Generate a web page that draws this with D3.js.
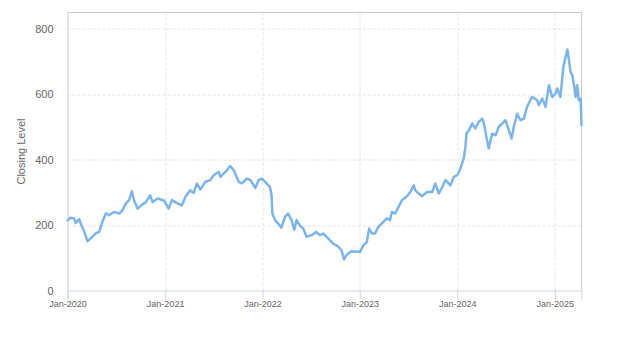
<!DOCTYPE html>
<html>
<head>
<meta charset="utf-8">
<script src="https://cdn.jsdelivr.net/npm/d3@7"></script>
<style>
  html, body { margin: 0; padding: 0; background: #fff; }
  svg { display: block; font-family: "Liberation Sans", Arial, sans-serif; }
</style>
</head>
<body>
<svg id="chart" width="623" height="350"></svg>
<script>
// Closing level series
const dates = [
  "2020-01-01","2020-01-11","2020-01-26","2020-02-01","2020-02-14","2020-02-22","2020-03-04","2020-03-16",
  "2020-03-29","2020-04-17","2020-04-29","2020-05-11","2020-05-24","2020-06-05","2020-06-24","2020-07-13",
  "2020-07-25","2020-08-07","2020-08-19","2020-08-29","2020-09-07","2020-09-20","2020-10-08","2020-10-21",
  "2020-11-06","2020-11-15","2020-12-04","2020-12-29","2021-01-14","2021-01-27","2021-02-14","2021-03-05",
  "2021-03-18","2021-04-05","2021-04-18","2021-04-30","2021-05-13","2021-06-01","2021-06-19","2021-07-02",
  "2021-07-21","2021-07-27","2021-08-15","2021-09-02","2021-09-15","2021-10-04","2021-10-16","2021-11-04",
  "2021-11-17","2021-12-05","2021-12-17","2021-12-30","2022-01-11","2022-01-29","2022-02-04","2022-02-07",
  "2022-02-17","2022-03-01","2022-03-13","2022-03-26","2022-04-07","2022-04-20","2022-04-30","2022-05-09",
  "2022-05-21","2022-06-03","2022-06-15","2022-07-04","2022-07-22","2022-08-04","2022-08-17","2022-09-04",
  "2022-09-23","2022-10-11","2022-10-24","2022-11-03","2022-11-11","2022-11-30","2022-12-19","2023-01-02",
  "2023-01-14","2023-01-27","2023-02-05","2023-02-15","2023-02-27","2023-03-11","2023-03-24","2023-04-12",
  "2023-04-24","2023-05-01","2023-05-13","2023-05-26","2023-06-08","2023-06-27","2023-07-09","2023-07-22",
  "2023-07-28","2023-08-10","2023-08-22","2023-09-10","2023-09-29","2023-10-11","2023-10-24","2023-11-06",
  "2023-11-18","2023-12-07","2023-12-19","2024-01-01","2024-01-13","2024-01-26","2024-02-01","2024-02-05",
  "2024-02-14","2024-02-26","2024-03-09","2024-03-22","2024-04-04","2024-04-10","2024-04-23","2024-04-28",
  "2024-05-11","2024-05-24","2024-06-05","2024-06-18","2024-06-30","2024-07-13","2024-07-23","2024-07-31",
  "2024-08-13","2024-08-25","2024-09-07","2024-09-19","2024-10-01","2024-10-08","2024-10-27","2024-11-02",
  "2024-11-15","2024-11-27","2024-12-10","2024-12-22","2025-01-04","2025-01-10","2025-01-22","2025-02-02",
  "2025-02-10","2025-02-17","2025-02-23","2025-03-01","2025-03-08","2025-03-14","2025-03-20","2025-03-26",
  "2025-04-01","2025-04-08","2025-04-11"
];
const closes = [
  214,222,220,206,218,199,180,150,
  160,175,179,210,236,230,240,235,
  245,266,276,303,274,250,263,270,
  291,270,281,274,250,276,267,260,
  286,306,298,327,308,332,337,352,
  362,347,362,380,367,332,327,342,
  337,313,337,342,332,316,291,235,
  215,204,192,225,235,215,186,215,
  199,189,164,169,179,169,174,159,
  143,135,123,95,108,120,118,118,
  138,148,189,174,174,194,204,220,
  215,240,235,255,276,288,301,321,
  306,296,288,301,301,327,296,316,
  337,321,347,352,372,405,440,480,
  489,510,495,515,525,510,454,434,
  479,474,500,510,520,489,464,500,
  540,520,525,561,581,591,581,566,
  586,561,627,591,601,617,591,683,
  713,736,703,667,657,627,591,627,
  581,586,505
];
const yTicks = [0, 200, 400, 600, 800];
const xTickYears = [2020, 2021, 2022, 2023, 2024, 2025];
const yTitle = "Closing Level";

const parse = d3.timeParse("%Y-%m-%d");
const data = dates.map((d, i) => ({ date: parse(d), value: closes[i] }));

const margin = { left: 67.5, top: 12.5, right: 623 - 581.5, bottom: 350 - 290.5 };
const width = 623 - margin.left - margin.right;
const height = 350 - margin.top - margin.bottom;

const svg = d3.select("#chart");
const g = svg.append("g").attr("transform", `translate(${margin.left},${margin.top})`);

const x = d3.scaleTime()
  .domain(d3.extent(data, d => d.date))
  .range([0, width]);
const y = d3.scaleLinear()
  .domain([0, 849])
  .range([height, 0]);

const xTicks = xTickYears.map(yr => new Date(yr, 0, 1));

// Horizontal grid
g.append("g")
  .selectAll("line")
  .data(yTicks.filter(t => t > 0))
  .join("line")
  .attr("x1", 0).attr("x2", width)
  .attr("y1", d => Math.round(y(d)) + 0.5).attr("y2", d => Math.round(y(d)) + 0.5)
  .attr("stroke", "#e3e3e3")
  .attr("stroke-dasharray", "3,2");

// Vertical grid
g.append("g")
  .selectAll("line")
  .data(xTicks.filter(t => x(t) > 1))
  .join("line")
  .attr("x1", d => Math.round(x(d)) + 0.5).attr("x2", d => Math.round(x(d)) + 0.5)
  .attr("y1", 0).attr("y2", height)
  .attr("stroke", "#e3e3e3")
  .attr("stroke-dasharray", "3,2");

// Plot border (top, right)
g.append("path")
  .attr("d", `M0,0H${width}V${height}`)
  .attr("fill", "none")
  .attr("stroke", "#cccccc");

// Y axis
const yAxis = g.append("g")
  .call(d3.axisLeft(y).tickValues(yTicks).tickSize(0).tickPadding(14));
yAxis.select(".domain").attr("stroke", "#cccccc");
yAxis.selectAll("text")
  .attr("fill", "#666666")
  .style("font-size", "11px");

// X axis
const xAxis = g.append("g")
  .attr("transform", `translate(0,${height})`)
  .call(d3.axisBottom(x).tickValues(xTicks).tickFormat(d3.timeFormat("%b-%Y")).tickSize(9).tickPadding(1));
xAxis.select(".domain").attr("stroke", "#ccd6eb");
xAxis.selectAll(".tick line").attr("stroke", "#ccd6eb");
xAxis.selectAll("text")
  .attr("fill", "#666666")
  .style("font-size", "9px");

// Y axis title
svg.append("text")
  .attr("transform", `translate(25,${margin.top + height / 2}) rotate(-90)`)
  .attr("text-anchor", "middle")
  .attr("fill", "#666666")
  .style("font-size", "11px")
  .text(yTitle);

// Series line
const line = d3.line()
  .x(d => x(d.date))
  .y(d => y(d.value));

g.append("path")
  .datum(data)
  .attr("fill", "none")
  .attr("stroke", "#7cb5ec")
  .attr("stroke-width", 2.5)
  .attr("stroke-linejoin", "round")
  .attr("stroke-linecap", "round")
  .attr("d", line);
</script>
</body>
</html>
